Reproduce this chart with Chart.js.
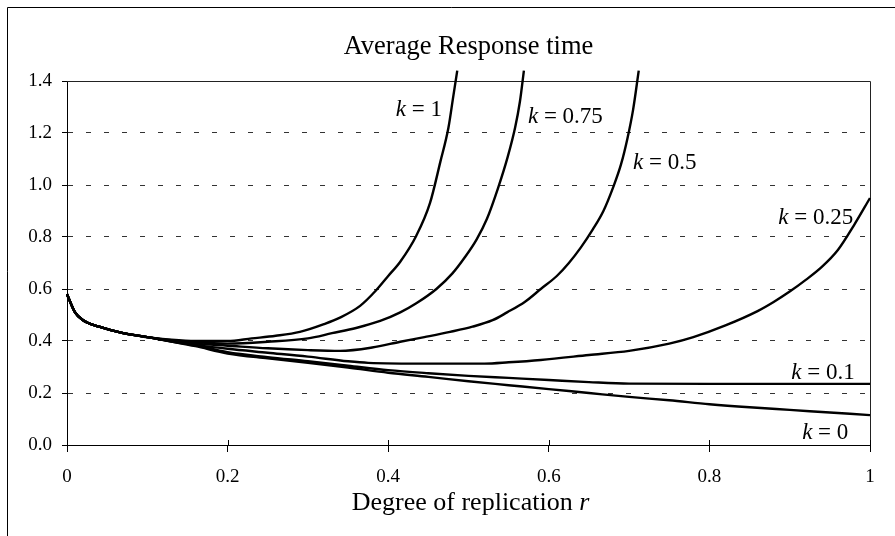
<!DOCTYPE html>
<html>
<head>
<meta charset="utf-8">
<script src="https://cdn.jsdelivr.net/npm/chart.js@4/dist/chart.umd.min.js"></script>
<style>
  html, body { margin: 0; padding: 0; background: #fff; }
  #wrap { width: 895px; height: 536px; }
</style>
</head>
<body>
<div id="wrap"><canvas id="c" width="895" height="536"></canvas></div>
<script>
// ---- data ----
const chartTitle = 'Average Response time';
const xTitle = 'Degree of replication ';
const xTitleVar = 'r';
const xTickValues = [0, 0.2, 0.4, 0.6, 0.8, 1];
const yTickValues = [0, 0.2, 0.4, 0.6, 0.8, 1.0, 1.2, 1.4];

const seriesNames = ['k = 1', 'k = 0.75', 'k = 0.5', 'k = 0.25', 'k = 0.1', 'k = 0'];
const kValues = ['1', '0.75', '0.5', '0.25', '0.1', '0'];

const rK1 = [0, 0.01, 0.02, 0.04, 0.07, 0.1, 0.13, 0.16, 0.2, 0.23, 0.26, 0.29, 0.32, 0.34, 0.365, 0.385, 0.40, 0.415, 0.435, 0.452, 0.465, 0.475, 0.481, 0.486];
const vK1 = [0.58, 0.51, 0.48, 0.455, 0.43, 0.415, 0.405, 0.40, 0.40, 0.41, 0.42, 0.435, 0.465, 0.49, 0.535, 0.595, 0.65, 0.705, 0.805, 0.93, 1.09, 1.22, 1.34, 1.44];

const rK075 = [0, 0.01, 0.02, 0.04, 0.07, 0.1, 0.13, 0.16, 0.2, 0.25, 0.3, 0.33, 0.36, 0.39, 0.415, 0.435, 0.46, 0.48, 0.495, 0.51, 0.523, 0.537, 0.549, 0.558, 0.564, 0.569];
const vK075 = [0.58, 0.51, 0.48, 0.455, 0.43, 0.415, 0.403, 0.395, 0.39, 0.397, 0.41, 0.43, 0.45, 0.477, 0.51, 0.545, 0.60, 0.66, 0.72, 0.79, 0.87, 0.99, 1.11, 1.22, 1.32, 1.44];

const rK05 = [0, 0.01, 0.02, 0.04, 0.07, 0.1, 0.13, 0.16, 0.2, 0.25, 0.3, 0.34, 0.38, 0.415, 0.445, 0.477, 0.505, 0.53, 0.548, 0.57, 0.59, 0.61, 0.625, 0.64, 0.655, 0.668, 0.68, 0.69, 0.698, 0.705, 0.712];
const vK05 = [0.58, 0.51, 0.48, 0.455, 0.43, 0.415, 0.40, 0.39, 0.382, 0.372, 0.365, 0.362, 0.375, 0.397, 0.415, 0.435, 0.455, 0.48, 0.51, 0.55, 0.60, 0.65, 0.70, 0.76, 0.83, 0.90, 0.99, 1.08, 1.18, 1.29, 1.44];

const rK025 = [0, 0.01, 0.02, 0.04, 0.07, 0.1, 0.13, 0.16, 0.2, 0.25, 0.3, 0.35, 0.375, 0.45, 0.52, 0.55, 0.59, 0.65, 0.70, 0.75, 0.78, 0.82, 0.86, 0.88, 0.90, 0.92, 0.94, 0.96, 0.98, 1.0];
const vK025 = [0.58, 0.51, 0.48, 0.455, 0.43, 0.415, 0.398, 0.385, 0.37, 0.355, 0.34, 0.322, 0.316, 0.313, 0.313, 0.318, 0.327, 0.346, 0.362, 0.39, 0.415, 0.46, 0.515, 0.55, 0.59, 0.635, 0.685, 0.75, 0.845, 0.95];

const rK01 = [0, 0.01, 0.02, 0.04, 0.07, 0.1, 0.13, 0.16, 0.2, 0.25, 0.3, 0.35, 0.4, 0.45, 0.5, 0.55, 0.6, 0.65, 0.7, 0.8, 0.9, 1.0];
const vK01 = [0.58, 0.51, 0.48, 0.455, 0.43, 0.415, 0.40, 0.383, 0.357, 0.338, 0.322, 0.305, 0.288, 0.276, 0.266, 0.258, 0.25, 0.242, 0.236, 0.235, 0.235, 0.235];

const rK0 = [0, 0.01, 0.02, 0.04, 0.07, 0.1, 0.13, 0.16, 0.2, 0.25, 0.3, 0.35, 0.4, 0.45, 0.5, 0.55, 0.6, 0.65, 0.7, 0.75, 0.8, 0.85, 0.9, 0.95, 1.0];
const vK0 = [0.58, 0.51, 0.48, 0.455, 0.43, 0.415, 0.398, 0.38, 0.352, 0.333, 0.316, 0.298, 0.278, 0.262, 0.245, 0.23, 0.215, 0.2, 0.185, 0.172, 0.157, 0.145, 0.135, 0.125, 0.115];

const seriesR = [rK1, rK075, rK05, rK025, rK01, rK0];
const seriesV = [vK1, vK075, vK05, vK025, vK01, vK0];

// label anchors in data space (r, value) with alignment
const labelAnchors = [
  { r: 0.467, v: 1.29, align: 'right' },
  { r: 0.574, v: 1.262, align: 'left' },
  { r: 0.705, v: 1.085, align: 'left' },
  { r: 0.979, v: 0.873, align: 'right' },
  { r: 0.981, v: 0.277, align: 'right' },
  { r: 0.973, v: 0.046, align: 'right' }
];

// ---- chart ----
const SERIF = '"Liberation Serif", "Times New Roman", serif';

function drawMixed(ctx, parts, size, x, y, align) {
  const fonts = parts.map(p => (p.italic ? 'italic ' : '') + size + 'px ' + SERIF);
  const widths = parts.map((p, i) => { ctx.font = fonts[i]; return ctx.measureText(p.t).width; });
  const total = widths.reduce((a, b) => a + b, 0);
  let sx = align === 'right' ? x - total : align === 'center' ? x - total / 2 : x;
  ctx.textAlign = 'left';
  ctx.textBaseline = 'middle';
  ctx.fillStyle = '#000';
  parts.forEach((p, i) => { ctx.font = fonts[i]; ctx.fillText(p.t, sx, y); sx += widths[i]; });
}

const decor = {
  id: 'decor',
  beforeDraw(chart) {
    const ctx = chart.ctx;
    ctx.save();
    ctx.fillStyle = '#fff';
    ctx.fillRect(0, 0, chart.width, chart.height);
    ctx.restore();
  },
  beforeDatasetsDraw(chart) {
    const { ctx, chartArea: a, scales: { x } } = chart;
    ctx.save();
    ctx.strokeStyle = '#222';
    ctx.lineWidth = 1;
    ctx.beginPath();
    ctx.moveTo(a.left, Math.round(a.top) + 0.5);
    ctx.lineTo(Math.round(a.right) + 0.5, Math.round(a.top) + 0.5);
    ctx.lineTo(Math.round(a.right) + 0.5, a.bottom);
    ctx.stroke();
    // inner part of x tick marks (ticks cross the axis)
    ctx.strokeStyle = '#000';
    x.ticks.forEach(t => {
      const px = Math.round(x.getPixelForValue(t.value)) + 0.5;
      ctx.beginPath();
      ctx.moveTo(px, a.bottom - 5);
      ctx.lineTo(px, a.bottom);
      ctx.stroke();
    });
    ctx.restore();
  },
  afterDraw(chart) {
    const { ctx, chartArea: a, scales: { x, y } } = chart;
    ctx.save();
    // outer frame
    ctx.strokeStyle = '#000';
    ctx.lineWidth = 1;
    ctx.beginPath();
    ctx.moveTo(7.5, chart.height);
    ctx.lineTo(7.5, 7.5);
    ctx.lineTo(chart.width, 7.5);
    ctx.stroke();
    // curve labels
    labelAnchors.forEach((lab, i) => {
      drawMixed(ctx, [{ t: 'k', italic: true }, { t: ' = ' + kValues[i] }], 23,
        x.getPixelForValue(lab.r), y.getPixelForValue(lab.v), lab.align);
    });
    // x axis title
    drawMixed(ctx, [{ t: xTitle }, { t: xTitleVar, italic: true }], 26,
      (a.left + a.right) / 2 + 2, a.bottom + 58, 'center');
    ctx.restore();
  }
};

const datasets = seriesNames.map((name, i) => ({
  label: name,
  data: seriesR[i].map((r, j) => ({ x: r, y: seriesV[i][j] })),
  borderColor: '#000',
  backgroundColor: '#000',
  borderWidth: 2.4,
  pointRadius: 0,
  fill: false,
  tension: 0.3,
  cubicInterpolationMode: 'monotone',
  clip: false
}));

new Chart(document.getElementById('c'), {
  type: 'line',
  data: { datasets },
  options: {
    responsive: false,
    animation: false,
    devicePixelRatio: 1,
    layout: { padding: { top: 0, right: 25, left: 0, bottom: 0 } },
    plugins: {
      legend: { display: false },
      tooltip: { enabled: false },
      title: {
        display: true,
        text: chartTitle,
        fullSize: false,
        color: '#000',
        font: { family: SERIF, size: 26.5, weight: 'normal', lineHeight: 1.2 },
        padding: { top: 31, bottom: 18.2 }
      }
    },
    scales: {
      x: {
        type: 'linear',
        min: 0,
        max: 1,
        afterBuildTicks(scale) { scale.ticks = xTickValues.map(v => ({ value: v })); },
        afterFit(scale) { scale.height = 91; },
        ticks: {
          color: '#000',
          font: { family: SERIF, size: 19 },
          padding: 14,
          maxRotation: 0,
          callback: v => (v === 0 ? '0' : v === 1 ? '1' : Number(v).toFixed(1))
        },
        grid: { drawOnChartArea: false, drawTicks: true, tickLength: 7, tickColor: '#000', color: '#000' },
        border: { display: true, color: '#000', width: 1 },
        title: { display: false }
      },
      y: {
        type: 'linear',
        min: 0,
        max: 1.4,
        afterBuildTicks(scale) { scale.ticks = yTickValues.map(v => ({ value: v })); },
        afterFit(scale) { scale.width = 67; },
        ticks: {
          color: '#000',
          font: { family: SERIF, size: 19 },
          padding: 10,
          callback: v => Number(v).toFixed(1)
        },
        grid: { drawOnChartArea: true, drawTicks: true, tickLength: 5, tickColor: '#000', color: '#333', lineWidth: 1, tickBorderDash: [] },
        border: { display: true, color: '#000', width: 1, dash: [5, 13] }
      }
    }
  },
  plugins: [decor]
});
</script>
</body>
</html>
